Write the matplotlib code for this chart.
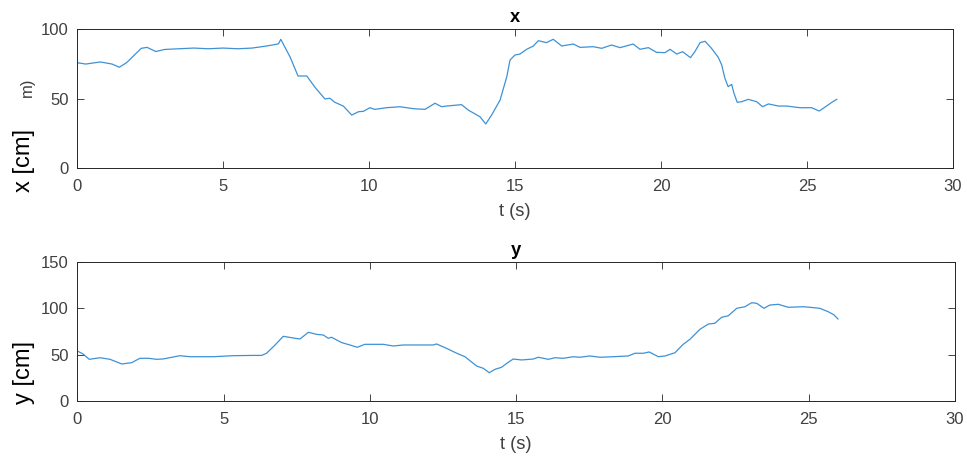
import matplotlib
matplotlib.use("Agg")
import matplotlib.pyplot as plt

plt.rcParams['font.family'] = ['Liberation Sans', 'DejaVu Sans']

# x position over time
t_x = [0.0, 0.3, 0.8, 1.2, 1.45, 1.7, 2.2, 2.4, 2.7, 3.0, 3.5, 4.0, 4.5, 5.0, 5.5, 6.0,
       6.5, 6.9, 6.98, 7.3, 7.57, 7.8, 7.87, 8.15, 8.49, 8.66, 8.83, 9.12, 9.41, 9.64,
       9.81, 10.03, 10.2, 10.6, 11.06, 11.52, 11.92, 12.26, 12.49, 12.66, 13.17, 13.4,
       13.8, 14.0, 14.2, 14.49, 14.72, 14.83, 15.0, 15.17, 15.4, 15.63, 15.8, 16.08,
       16.31, 16.6, 17.0, 17.23, 17.68, 17.97, 18.31, 18.6, 19.05, 19.28, 19.57, 19.85,
       20.14, 20.31, 20.54, 20.74, 21.01, 21.16, 21.34, 21.51, 21.73, 21.96, 22.08,
       22.19, 22.3, 22.42, 22.5, 22.61, 22.76, 22.99, 23.28, 23.48, 23.68, 24.02, 24.3,
       24.76, 25.16, 25.42, 25.67, 25.88, 26.02]
x_cm = [76.0, 75.0, 76.5, 75.0, 72.7, 76.0, 86.3, 87.0, 84.0, 85.5, 86.0, 86.5, 86.0, 86.5,
        86.0, 86.5, 88.0, 89.5, 92.8, 80.0, 66.4, 66.4, 66.4, 58.3, 49.9, 50.4, 47.5,
        44.8, 38.3, 40.7, 41.0, 43.6, 42.4, 43.6, 44.3, 42.9, 42.4, 46.8, 44.3, 44.8,
        45.8, 41.9, 37.1, 31.9, 38.3, 49.1, 65.9, 77.9, 81.5, 82.2, 85.6, 88.0, 91.8,
        90.4, 92.8, 88.0, 89.4, 87.0, 87.5, 86.3, 88.7, 86.8, 89.4, 85.6, 86.8, 83.4,
        83.2, 85.6, 82.2, 83.9, 79.6, 83.9, 90.4, 91.4, 86.3, 79.9, 74.3, 64.7, 58.7,
        60.4, 54.0, 47.5, 47.9, 49.6, 47.9, 44.3, 46.3, 44.8, 44.8, 43.6, 43.6, 41.2,
        44.8, 47.9, 49.6]

# y position over time
t_y = [0.0, 0.2, 0.41, 0.78, 1.12, 1.52, 1.86, 2.14, 2.43, 2.71, 2.94, 3.51, 3.85, 4.65,
       5.33, 6.02, 6.3, 6.47, 6.76, 7.04, 7.33, 7.61, 7.9, 8.18, 8.41, 8.58, 8.69, 9.04,
       9.32, 9.57, 9.83, 10.46, 10.8, 11.14, 12.17, 12.28, 12.62, 12.97, 13.25, 13.65,
       13.88, 14.08, 14.28, 14.5, 14.68, 14.9, 15.19, 15.58, 15.76, 16.1, 16.33, 16.61,
       16.96, 17.18, 17.52, 17.86, 18.32, 18.83, 19.06, 19.35, 19.55, 19.86, 20.09,
       20.43, 20.71, 20.94, 21.28, 21.57, 21.79, 22.02, 22.25, 22.54, 22.82, 23.05,
       23.22, 23.47, 23.67, 23.96, 24.3, 24.81, 25.04, 25.38, 25.67, 25.87, 26.0]
y_cm = [54.1, 50.8, 45.1, 46.8, 45.1, 40.1, 41.5, 46.2, 46.2, 45.1, 45.5, 49.0, 47.9, 47.9,
        49.0, 49.3, 49.3, 51.6, 60.5, 69.8, 68.3, 66.9, 74.1, 71.9, 71.2, 67.7, 68.8,
        63.0, 60.5, 58.0, 61.2, 61.2, 59.4, 60.5, 60.5, 61.6, 56.9, 51.6, 47.9, 37.9,
        35.4, 30.7, 34.4, 36.5, 40.8, 45.4, 44.4, 45.4, 47.3, 45.1, 46.8, 46.2, 47.9,
        47.3, 48.7, 47.3, 47.9, 48.7, 51.6, 51.6, 53.0, 47.9, 48.7, 52.2, 61.2, 66.6,
        77.3, 83.0, 83.8, 90.2, 91.9, 99.9, 101.6, 105.9, 105.3, 99.9, 103.4, 104.2,
        101.0, 101.6, 101.0, 99.9, 96.2, 92.7, 88.4]

x_ticks = [0, 5, 10, 15, 20, 25, 30]
ink = '#262626'
blue = '#3d92d6'

fig = plt.figure(figsize=(9.67, 4.57), dpi=100)
ax1 = fig.add_axes([0.0796, 0.6317, 0.9059, 0.3042])
ax2 = fig.add_axes([0.0799, 0.1219, 0.9077, 0.3055])


def style(ax, ylim, yticks, title):
    ax.set_xlim(0, 30)
    ax.set_ylim(*ylim)
    ax.set_xticks(x_ticks)
    ax.set_yticks(yticks)
    ax.tick_params(direction='in', top=True, right=True, length=5, width=0.6,
                   colors=ink, labelsize=12, labelcolor='#404040')
    ax.tick_params(axis='x', pad=8)
    ax.tick_params(axis='y', pad=6)
    for s in ax.spines.values():
        s.set_color(ink)
        s.set_linewidth(0.7)
    ax.set_xlabel('t (s)', fontsize=13.2, color='#404040', labelpad=6)
    ax.set_title(title, fontsize=13.2, fontweight='bold', color='black', pad=5)


ax1.plot(t_x, x_cm, color=blue, lw=0.9)
style(ax1, (0, 100), [0, 50, 100], 'x')

ax2.plot(t_y, y_cm, color=blue, lw=0.9)
style(ax2, (0, 150), [0, 50, 100, 150], 'y')

# axis labels placed by hand
fig.text(24 / 967, 1 - 160 / 457, 'x [cm]', rotation=90, ha='center', va='center',
         fontsize=17, color='black')
fig.text(27.5 / 967, 1 - 87.5 / 457, 'm)', rotation=90, ha='center', va='center',
         fontsize=12, color='#404040')
fig.text(24 / 967, 1 - 372 / 457, 'y [cm]', rotation=90, ha='center', va='center',
         fontsize=17, color='black')

fig.savefig('out.png', dpi=100)
